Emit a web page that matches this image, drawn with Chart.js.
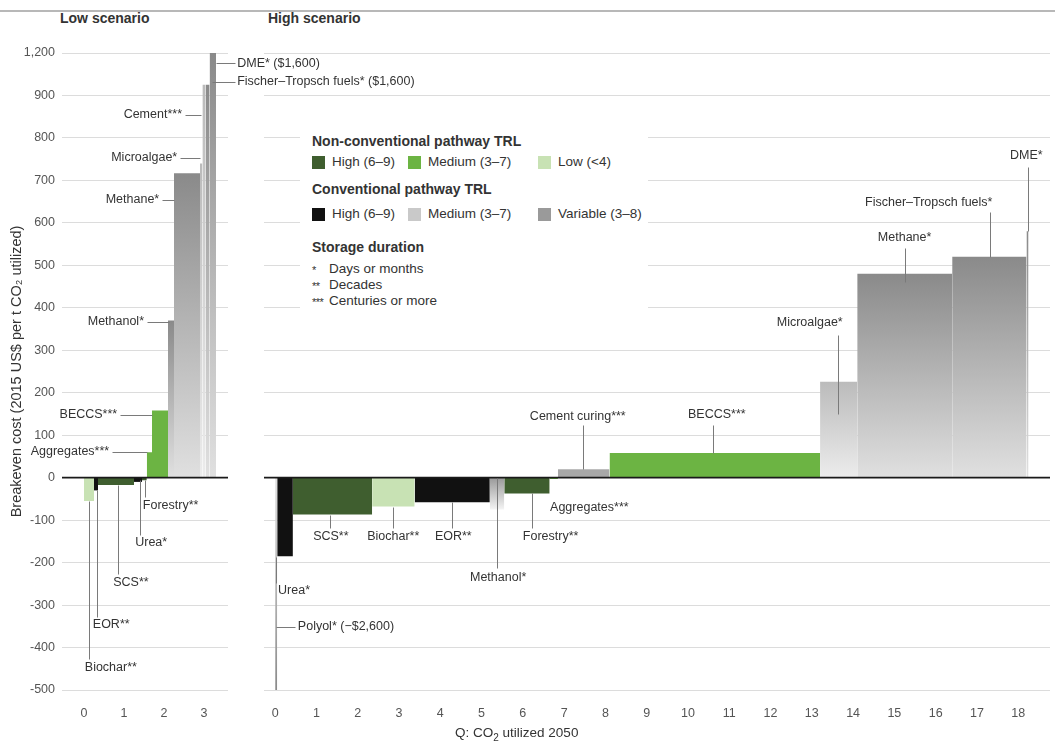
<!DOCTYPE html>
<html>
<head>
<meta charset="utf-8">
<script src="https://cdn.jsdelivr.net/npm/chart.js@4.4.1/dist/chart.umd.min.js"></script>
<style>
  body { margin: 0; background: #fff; font-family: "Liberation Sans", Arial, sans-serif; color: #333; }
  #wrap { position: relative; width: 1055px; height: 742px; overflow: hidden; }
  #lowBox { position: absolute; left: 0; top: 0; width: 460px; height: 742px; }
  #highBox { position: absolute; left: 240px; top: 0; width: 815px; height: 742px; }
  .topline { position: absolute; left: 0; top: 10px; width: 1055px; height: 2px; background: #b8b8b8; }
  .ptitle { position: absolute; top: 10px; font-size: 14px; font-weight: bold; color: #333; }
  #legend { position: absolute; left: 300px; top: 118px; width: 348px; height: 212px; background: #fff; font-size: 13.5px; }
  #legend div { position: absolute; white-space: nowrap; }
  #legend .hd { font-weight: bold; font-size: 14px; }
  #legend .sw { width: 13px; height: 13px; }
  #legend .ast { font-size: 11px; letter-spacing: -0.5px; }
  #xtitle { position: absolute; top: 725px; left: 455px; font-size: 13.5px; }
</style>
</head>
<body>
<div id="wrap">
  <div class="topline"></div>
  <div class="ptitle" style="left:60px">Low scenario</div>
  <div class="ptitle" style="left:268px">High scenario</div>
  <div id="lowBox"><canvas id="lowChart"></canvas></div>
  <div id="highBox"><canvas id="highChart"></canvas></div>
  <div id="legend">
    <div class="hd" style="left:12px;top:15px">Non-conventional pathway TRL</div>
    <div class="sw" style="left:12px;top:38px;background:#3f5e2f"></div>
    <div style="left:32px;top:36px">High (6–9)</div>
    <div class="sw" style="left:108px;top:38px;background:#6cb443"></div>
    <div style="left:128px;top:36px">Medium (3–7)</div>
    <div class="sw" style="left:238px;top:38px;background:#c8e2b4"></div>
    <div style="left:258px;top:36px">Low (&lt;4)</div>
    <div class="hd" style="left:12px;top:63px">Conventional pathway TRL</div>
    <div class="sw" style="left:12px;top:90px;background:#111"></div>
    <div style="left:32px;top:88px">High (6–9)</div>
    <div class="sw" style="left:108px;top:90px;background:#c9c9c9"></div>
    <div style="left:128px;top:88px">Medium (3–7)</div>
    <div class="sw" style="left:238px;top:90px;background:#9a9a9a"></div>
    <div style="left:258px;top:88px">Variable (3–8)</div>
    <div class="hd" style="left:12px;top:121px">Storage duration</div>
    <div class="ast" style="left:12px;top:146px">*</div><div style="left:29px;top:143px">Days or months</div>
    <div class="ast" style="left:12px;top:162px">**</div><div style="left:29px;top:159px">Decades</div>
    <div class="ast" style="left:12px;top:178px">***</div><div style="left:29px;top:175px">Centuries or more</div>
  </div>
  <div id="xtitle">Q: CO<sub style="font-size:10px">2</sub> utilized 2050</div>
</div>
<script>
// low scenario: pathways in cost order, Gt CO2 utilised and breakeven cost
const lowNames = ['Biochar', 'EOR', 'SCS', 'Urea', 'Forestry', 'Aggregates', 'BECCS', 'Methanol', 'Methane', 'Microalgae', 'Cement', 'Fischer-Tropsch fuels', 'DME'];
const lowWidths = [0.25, 0.1, 0.9, 0.2, 0.12, 0.13, 0.4, 0.15, 0.65, 0.06, 0.08, 0.1, 0.16];
const lowCosts = [-55, -30, -17, -10, -6, 60, 158, 370, 717, 740, 925, 925, 1600];
const lowTrl = ['lg', 'k', 'hg', 'k', 'hg', 'mg', 'mg', 'var', 'var', 'cm', 'cm', 'var', 'var'];

// high scenario
const highNames = ['Polyol', 'Urea', 'SCS', 'Biochar', 'EOR', 'Methanol', 'Forestry', 'Aggregates', 'Cement curing', 'BECCS', 'Microalgae', 'Methane', 'Fischer-Tropsch fuels', 'DME'];
const highWidths = [0.05, 0.38, 1.92, 1.03, 1.82, 0.35, 1.1, 0.2, 1.25, 5.1, 0.9, 2.3, 1.8, 0.05];
const highCosts = [-2600, -185, -87, -68, -58, -75, -37, -3, 20, 58, 226, 480, 520, 580];
const highTrl = ['var', 'k', 'hg', 'lg', 'k', 'varneg', 'hg', 'mg', 'cmsolid', 'mg', 'cm', 'var', 'var', 'var'];

const lowTicks = [0, 1, 2, 3];
const highTicks = [0, 1, 2, 3, 4, 5, 6, 7, 8, 9, 10, 11, 12, 13, 14, 15, 16, 17, 18];
const yTickValues = [-500, -400, -300, -200, -100, 0, 100, 200, 300, 400, 500, 600, 700, 800, 900, 1000];
const yTickLabels = ['-500', '-400', '-300', '-200', '-100', '0', '100', '200', '300', '400', '500', '600', '700', '800', '900', '1,200'];

const lowNotes = [
  {t: 'DME* ($1,600)', x: 3.83, y: 976, a: 'left', l: [3.3, 976, 3.77, 976]},
  {t: 'Fischer–Tropsch fuels* ($1,600)', x: 3.83, y: 932, a: 'left', l: [3.2, 932, 3.77, 932]},
  {t: 'Cement***', x: 2.45, y: 854, a: 'right', l: [2.52, 854, 2.92, 854]},
  {t: 'Microalgae*', x: 2.33, y: 753, a: 'right', l: [2.4, 753, 2.9, 753]},
  {t: 'Methane*', x: 1.88, y: 654, a: 'right', l: [1.95, 654, 2.25, 654]},
  {t: 'Methanol*', x: 1.5, y: 367, a: 'right', l: [1.57, 367, 2.12, 367]},
  {t: 'BECCS***', x: 0.83, y: 148, a: 'right', l: [0.9, 148, 1.7, 148]},
  {t: 'Aggregates***', x: 0.63, y: 61, a: 'right', l: [0.7, 61, 1.58, 61]},
  {t: 'Forestry**', x: 1.47, y: -66, a: 'left', l: [1.53, -5, 1.53, -45]},
  {t: 'Urea*', x: 1.28, y: -153, a: 'left', l: [1.4, -5, 1.4, -134]},
  {t: 'SCS**', x: 0.73, y: -248, a: 'left', l: [0.85, -17, 0.85, -228]},
  {t: 'EOR**', x: 0.22, y: -347, a: 'left', l: [0.32, -30, 0.32, -327]},
  {t: 'Biochar**', x: 0.02, y: -446, a: 'left', l: [0.13, -55, 0.13, -426]}
];
const highNotes = [
  {t: 'Urea*', x: 0.07, y: -266, a: 'left', l: [0.03, -186, 0.03, -247]},
  {t: 'Polyol* (−$2,600)', x: 0.55, y: -351, a: 'left', l: [0.03, -351, 0.48, -351]},
  {t: 'SCS**', x: 0.92, y: -138, a: 'left', l: [1.33, -87, 1.33, -118]},
  {t: 'Biochar**', x: 2.23, y: -138, a: 'left', l: [2.86, -68, 2.86, -118]},
  {t: 'EOR**', x: 3.87, y: -138, a: 'left', l: [4.29, -58, 4.29, -118]},
  {t: 'Methanol*', x: 4.72, y: -235, a: 'left', l: [5.37, 0, 5.37, -212]},
  {t: 'Forestry**', x: 6.0, y: -138, a: 'left', l: [6.22, -37, 6.22, -118]},
  {t: 'Aggregates***', x: 6.66, y: -71, a: 'left'},
  {t: 'Cement curing***', x: 6.17, y: 143, a: 'left', l: [7.46, 125, 7.46, 20]},
  {t: 'BECCS***', x: 10.0, y: 148, a: 'left', l: [10.6, 125, 10.6, 58]},
  {t: 'Microalgae*', x: 12.15, y: 365, a: 'left', l: [13.63, 336, 13.63, 150]},
  {t: 'Methane*', x: 14.6, y: 565, a: 'left', l: [15.25, 541, 15.25, 460]},
  {t: 'Fischer–Tropsch fuels*', x: 14.29, y: 647, a: 'left', l: [17.31, 626, 17.31, 520]},
  {t: 'DME*', x: 17.8, y: 758, a: 'left', l: [18.23, 732, 18.23, 580]}
];

const flat = {hg: '#3f5e2f', mg: '#6cb443', lg: '#c8e2b4', k: '#111111', cm: '#c9c9c9', cmsolid: '#a8a8a8', var: '#9a9a9a', varneg: '#b0b0b0'};
const grads = {var: ['#8a8a8a', '#e0e0e0'], cm: ['#bbbbbb', '#ececec'], varneg: ['#f4f4f4', '#999999']};

function fillFor(kind) {
  if (!grads[kind]) return flat[kind];
  return function(c) {
    const ch = c.chart, ys = ch.scales.y;
    if (!ys || !ch.chartArea || !c.dataset) return flat[kind];
    const v = c.dataset.data[0].y;
    const yTop = ys.getPixelForValue(Math.max(ys.min, Math.min(ys.max, v)));
    const y0 = ys.getPixelForValue(0);
    if (Math.abs(yTop - y0) < 1) return flat[kind];
    const g = ch.ctx.createLinearGradient(0, yTop, 0, y0);
    g.addColorStop(0, grads[kind][0]);
    g.addColorStop(1, grads[kind][1]);
    return g;
  };
}

function buildBars(widths, costs, trl) {
  let x = 0;
  const sets = widths.map((w, i) => {
    const ds = {
      data: [{x: x, y: costs[i]}, {x: x + w, y: costs[i]}],
      fill: 'origin',
      backgroundColor: fillFor(trl[i]),
      borderWidth: 0,
      pointRadius: 0,
      tension: 0
    };
    x += w;
    return ds;
  });
  return sets;
}

const notesPlugin = {
  id: 'notes',
  afterDatasetsDraw(chart, args, opts) {
    const {ctx} = chart, xs = chart.scales.x, ys = chart.scales.y;
    ctx.save();
    ctx.font = '12.5px "Liberation Sans", Arial, sans-serif';
    ctx.fillStyle = '#333';
    ctx.strokeStyle = '#7a7a7a';
    ctx.lineWidth = 1;
    ctx.textBaseline = 'middle';
    opts.items.forEach(n => {
      if (n.l) {
        ctx.beginPath();
        ctx.moveTo(Math.round(xs.getPixelForValue(n.l[0])) + 0.5, Math.round(ys.getPixelForValue(n.l[1])) + 0.5);
        ctx.lineTo(Math.round(xs.getPixelForValue(n.l[2])) + 0.5, Math.round(ys.getPixelForValue(n.l[3])) + 0.5);
        ctx.stroke();
      }
      ctx.textAlign = n.a;
      ctx.fillText(n.t, xs.getPixelForValue(n.x), ys.getPixelForValue(n.y));
    });
    ctx.restore();
  }
};

function makePanel(id, o) {
  const bars = buildBars(o.widths, o.costs, o.trl);
  // zero line drawn on top of the bars
  bars.push({
    data: [{x: o.xmin, y: 0}, {x: o.xmax, y: 0}],
    borderColor: '#1a1a1a', borderWidth: 1.6, pointRadius: 0, fill: false, order: -1
  });
  return new Chart(document.getElementById(id), {
    type: 'line',
    data: {datasets: bars},
    plugins: [notesPlugin],
    options: {
      responsive: true,
      maintainAspectRatio: false,
      animation: false,
      layout: {padding: o.padding},
      plugins: {legend: {display: false}, tooltip: {enabled: false}, notes: {items: o.notes}},
      scales: {
        x: {
          type: 'linear', min: o.xmin, max: o.xmax,
          grid: {display: false}, border: {display: false},
          afterBuildTicks: s => { s.ticks = o.xticks.map(v => ({value: v})); },
          afterFit: s => { s.height = 52; },
          ticks: {padding: 8, color: '#555', font: {size: 12.5, family: '"Liberation Sans", Arial, sans-serif'}, callback: v => String(v)}
        },
        y: {
          type: 'linear', min: -500, max: 1000,
          border: {display: false},
          grid: {drawTicks: false, color: c => c.tick && c.tick.value === 0 ? '#1a1a1a' : '#dcdcdc', lineWidth: 1},
          afterBuildTicks: s => { s.ticks = yTickValues.map(v => ({value: v})); },
          afterFit: s => { s.width = o.yWidth; },
          ticks: {
            display: o.showY, padding: 7, color: '#555',
            font: {size: 12.5, family: '"Liberation Sans", Arial, sans-serif'},
            callback: (v, i) => yTickLabels[i]
          },
          title: {
            display: o.showY,
            text: 'Breakeven cost (2015 US$ per t CO₂ utilized)',
            color: '#333', padding: {top: 8, bottom: 0},
            font: {size: 14.5, family: '"Liberation Sans", Arial, sans-serif'}
          }
        }
      }
    }
  });
}

makePanel('lowChart', {
  widths: lowWidths, costs: lowCosts, trl: lowTrl, notes: lowNotes, xticks: lowTicks,
  xmin: -0.55, xmax: 3.6, yWidth: 62, showY: true,
  padding: {left: 0, right: 232, top: 53, bottom: 0}
});
makePanel('highChart', {
  widths: highWidths, costs: highCosts, trl: highTrl, notes: highNotes, xticks: highTicks,
  xmin: -0.27, xmax: 18.77, yWidth: 0, showY: false,
  padding: {left: 24, right: 5, top: 53, bottom: 0}
});
</script>
</body>
</html>
